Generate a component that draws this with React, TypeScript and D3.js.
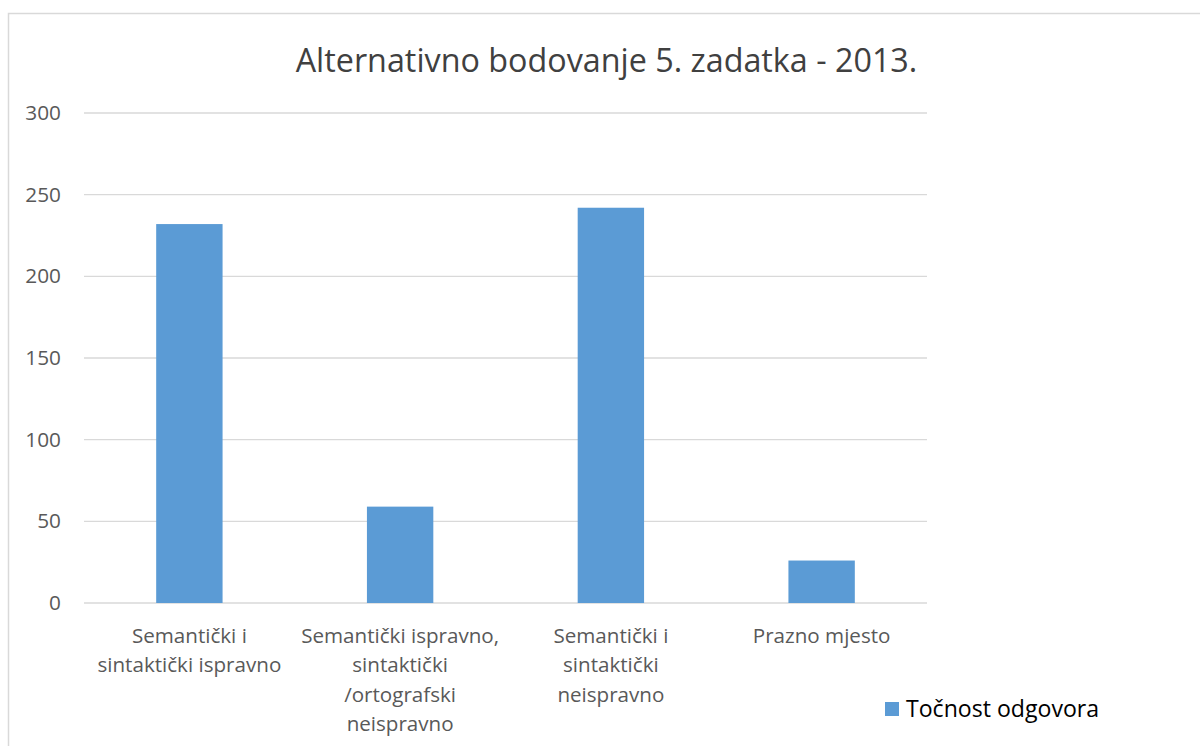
import React from "react";
import * as d3 from "d3";

const title = "Alternativno bodovanje 5. zadatka - 2013.";
const categories: string[][] = [
  ["Semantički i", "sintaktički ispravno"],
  ["Semantički ispravno,", "sintaktički", "/ortografski", "neispravno"],
  ["Semantički i", "sintaktički", "neispravno"],
  ["Prazno mjesto"],
];
const values = [232, 59, 242, 26];
const yTicks = [0, 50, 100, 150, 200, 250, 300];
const seriesName = "Točnost odgovora";

const W = 1200;
const H = 746;
const font = "'Open Sans', 'Liberation Sans', sans-serif";

export default function App() {
  const x = d3
    .scaleBand<number>()
    .domain(values.map((_, i) => i))
    .range([84, 927])
    .paddingInner(0.685)
    .paddingOuter(0.3425);
  const y = d3.scaleLinear().domain([0, 300]).range([603, 113]);

  return (
    <svg
      width={W}
      height={H}
      style={{ position: "absolute", left: 0, top: 0, background: "#fff" }}
    >
      <rect x={8.5} y={13.5} width={1220} height={760} fill="#fff" stroke="#D9D9D9" strokeWidth={1.5} />
      <text x={606.5} y={72} textAnchor="middle" fontFamily={font} fontSize={32.3} fill="#404040">
        {title}
      </text>
      {yTicks.map((t) => (
        <g key={t}>
          <line x1={84} x2={927} y1={y(t)} y2={y(t)} stroke="#D9D9D9" strokeWidth={1.3} />
          <text x={61} y={y(t) + 7} textAnchor="end" fontFamily={font} fontSize={20.8} fill="#595959">
            {t}
          </text>
        </g>
      ))}
      {values.map((v, i) => (
        <rect key={i} x={x(i)} y={y(v)} width={x.bandwidth()} height={y(0) - y(v)} fill="#5B9BD5" />
      ))}
      {categories.map((lines, i) => (
        <text key={i} textAnchor="middle" fontFamily={font} fontSize={20.6} fill="#595959">
          {lines.map((l, j) => (
            <tspan key={j} x={(x(i) as number) + x.bandwidth() / 2} y={643 + j * 29.3}>
              {l}
            </tspan>
          ))}
        </text>
      ))}
      <rect x={885} y={702} width={14} height={14} fill="#5B9BD5" />
      <text x={906} y={716.5} fontFamily={font} fontSize={23.1} fill="#000">
        {seriesName}
      </text>
    </svg>
  );
}
